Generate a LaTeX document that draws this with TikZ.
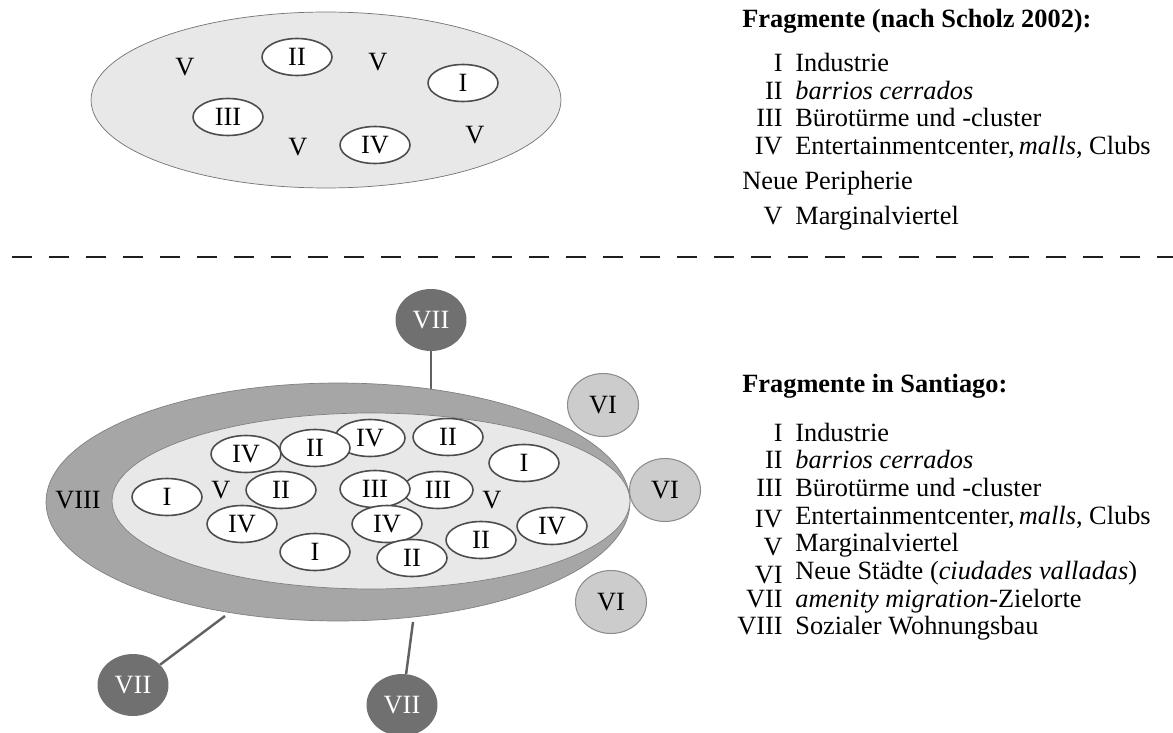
\documentclass[tikz,border=0pt]{standalone}
\usepackage{fontspec}
\setmainfont{Liberation Serif}
\usetikzlibrary{shapes.geometric}

\begin{document}
\begin{tikzpicture}[x=0.02cm, y=-0.02cm,
  every node/.style={font=\fontsize{15}{16}\selectfont, inner sep=0pt},
  frag/.style={ellipse, draw=black!70, line width=0.9pt, fill=white, minimum width=1.4cm, minimum height=0.74cm},
  vi/.style={ellipse, draw=black!45, line width=0.6pt, fill=black!20, minimum width=1.42cm, minimum height=1.26cm},
  vii/.style={ellipse, fill=black!56, text=white, minimum width=1.42cm, minimum height=1.24cm},
  link/.style={black!62, line width=1.4pt},
  num/.style={anchor=base east},
  txt/.style={anchor=base west}]
\useasboundingbox (0,0) rectangle (1173,733);
% upper model (Scholz 2002)
\draw[black!55, fill=black!9] (326,100) ellipse [x radius=4.7cm, y radius=1.76cm];
\node[frag] (T2) at (297,57) {II};
\node[frag] (T1) at (463,83) {I};
\node[frag] (T3) at (228,117) {III};
\node[frag] (T4) at (375,145) {IV};
\node (TV1) at (185,67) {V};
\node (TV2) at (378,62) {V};
\node (TV3) at (298,147) {V};
\node (TV4) at (475,135) {V};
% upper legend
\node[txt, font=\fontsize{15}{16}\selectfont\bfseries] (H1) at (742,28) {Fragmente (nach Scholz 2002):};
\node[num] (a1) at (783,72) {I};      \node[txt] (b1) at (795,72) {Industrie};
\node[num] (a2) at (783,99.5) {II};   \node[txt] (b2) at (795,99.5) {\textit{barrios cerrados}};
\node[num] (a3) at (783,127) {III};   \node[txt] (b3) at (795,127) {Bürotürme und -cluster};
\node[num] (a4) at (783,154.5) {IV};  \node[txt] (b4) at (795,154.5) {Entertainmentcenter,\,\textit{malls}, Clubs};
\node[txt] (NP) at (742,190) {Neue Peripherie};
\node[num] (a5) at (783,225) {V};     \node[txt] (b5) at (795,225) {Marginalviertel};
% separator
\draw[black!88, line width=1.7pt, dash pattern=on 0.4cm off 0.339cm] (12,257) -- (1173,257);
% lower model (Santiago)
\node[vii] (S7a) at (431,320) {VII};
\node[vii] (S7b) at (133,685) {VII};
\node[vii] (S7c) at (402,705) {VII};
\node[vi] (S6a) at (603,405) {VI};
\node[vi] (S6b) at (665,490) {VI};
\node[vi] (S6c) at (611,602) {VI};
\coordinate (R1) at (431,392);
\coordinate (R2) at (225,616);
\coordinate (R3) at (413,622);
\draw[link] (S7a) -- (R1);
\draw[link] (S7b) -- (R2);
\draw[link] (S7c) -- (R3);
\draw[black!50, fill=black!35] (338,502) ellipse [x radius=5.84cm, y radius=2.38cm];
\draw[black!50, fill=black!9] (371,501) ellipse [x radius=5.18cm, y radius=1.76cm];
\node (S8) at (78,500) {VIII};
\node[frag] (S4a) at (246,454) {IV};
\node[frag] (S4b) at (370,438) {IV};
\node[frag] (S2a) at (315,448) {II};
\node[frag] (S2b) at (448,437) {II};
\node[frag] (S1a) at (524,463) {I};
\node[frag] (S1b) at (167,497) {I};
\node[frag] (S2c) at (281,490) {II};
\node[frag] (S3b) at (438,490) {III};
\node[frag] (S3a) at (375,489) {III};
\node[frag] (S4c) at (242,524) {IV};
\node[frag] (S4d) at (387,524) {IV};
\node[frag] (S2d) at (481,540) {II};
\node[frag] (S4e) at (552,526) {IV};
\node[frag] (S1c) at (315,552) {I};
\node[frag] (S2e) at (412,558) {II};
\node (SV1) at (221,490) {V};
\node (SV2) at (492,500) {V};
% lower legend
\node[txt, font=\fontsize{15}{16}\selectfont\bfseries] (H2) at (742,392) {Fragmente in Santiago:};
\node[num] (c1) at (783,441) {I};      \node[txt] (d1) at (795,441) {Industrie};
\node[num] (c2) at (783,468.7) {II};   \node[txt] (d2) at (795,468.7) {\textit{barrios cerrados}};
\node[num] (c3) at (783,496.4) {III};  \node[txt] (d3) at (795,496.4) {Bürotürme und -cluster};
\node[num] (c4) at (783,524) {\raisebox{-2pt}{IV}};   \node[txt] (d4) at (795,524) {Entertainmentcenter,\,\textit{malls}, Clubs};
\node[num] (c5) at (783,551.8) {\raisebox{-2pt}{V}};  \node[txt] (d5) at (795,551.8) {Marginalviertel};
\node[num] (c6) at (783,579.5) {\raisebox{-2pt}{VI}}; \node[txt] (d6) at (795,579.5) {Neue Städte (\textit{ciudades valladas})};
\node[num] (c7) at (783,607) {VII};    \node[txt] (d7) at (795,607) {\textit{amenity migration}-Zielorte};
\node[num] (c8) at (783,634) {VIII};   \node[txt] (d8) at (795,634) {Sozialer Wohnungsbau};
\end{tikzpicture}
\end{document}
